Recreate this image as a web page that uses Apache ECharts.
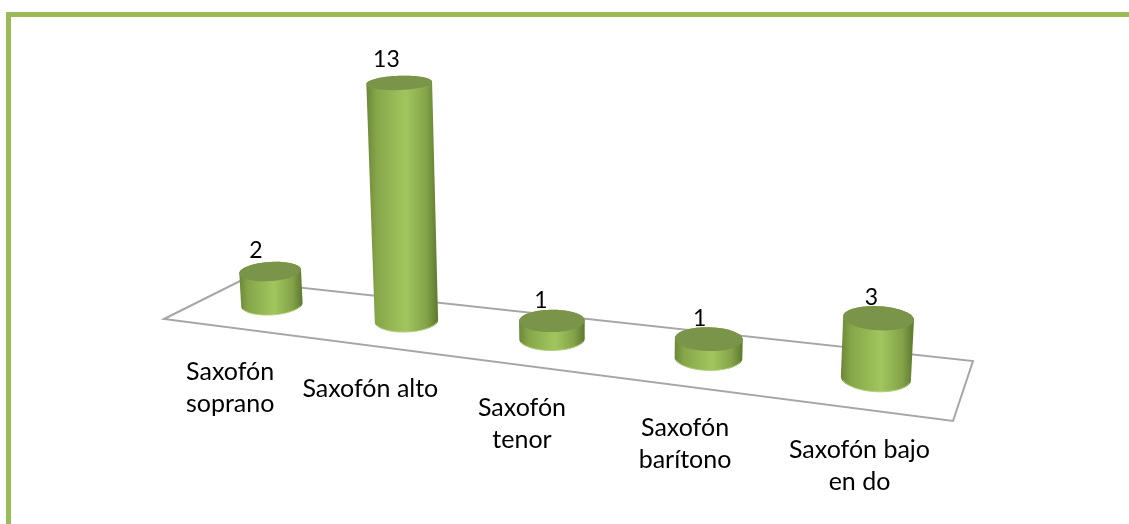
<!DOCTYPE html>
<html>
<head>
<meta charset="utf-8">
<title>Saxofones</title>
<script src="https://cdn.jsdelivr.net/npm/echarts@6/dist/echarts.min.js"></script>
<style>
html, body { margin: 0; padding: 0; background: #fff; }
#chart { width: 1129px; height: 524px; }
</style>
</head>
<body>
<div id="chart"></div>
<script>
// datos
var categories = ['Saxofón\nsoprano', 'Saxofón alto', 'Saxofón\ntenor', 'Saxofón\nbarítono', 'Saxofón bajo\nen do'];
var values = [2, 13, 1, 1, 3];

var myChart = echarts.init(document.getElementById('chart'));
var FONT = 'Lato, "Open Sans", sans-serif';
var GREEN = '#9bbb59';
var MID = (categories.length - 1) / 2;
var VANISH_X = 597;   // punto de fuga de los cilindros
var LEAN = 0.00016;

// las categorias se abren hacia la derecha, como en la perspectiva original
function warpX(x, midX) {
	var d = x - midX;
	return x + 0.00024 * d * d;
}

function ellipsePts(cx, cy, rx, ry, tilt, from, to) {
	var pts = [];
	for (var i = 0; i <= 40; i++) {
		var a = from + (to - from) * i / 40;
		var px = rx * Math.cos(a);
		pts.push([cx + px, cy + ry * Math.sin(a) + tilt * px]);
	}
	return pts;
}

function renderFloor(params, api) {
	var o = api.coord([MID, 0]);
	var pts = [
		[o[0] - 388, o[1] - 20],
		[o[0] - 312, o[1] - 58],
		[o[0] + 421, o[1] + 22],
		[o[0] + 401, o[1] + 82]
	];
	return {
		type: 'polygon',
		shape: { points: pts },
		style: { fill: '#fff', stroke: '#a6a6a6', lineWidth: 2 }
	};
}

function renderCylinder(params, api) {
	var c = api.value(0);
	var v = api.value(1);
	var mid = api.coord([MID, 0]);
	var base = api.coord([c, 0]);
	var top = api.coord([c, v]);

	var fx = warpX(base[0], mid[0]);
	var off = fx - mid[0];
	var fy = base[1] + 0.122 * off;
	var h = (base[1] - top[1]) * (1 + off * 0.0003);
	h = h * (1 + 0.00029 * h);
	var k = 1 + LEAN * h;
	var tx = VANISH_X + (fx - VANISH_X) * k;
	var ty = fy - h;
	var rx = 32.7 * (1 + off * 0.00022);
	var ryB = 11.5 * (1 + off * 0.00045);
	var ryT = ryB * (1 - h * 0.0014);
	var tilt = (fx - VANISH_X) * 0.00018;

	var body = ellipsePts(fx, fy, rx, ryB, tilt, 0, Math.PI)
		.concat(ellipsePts(tx, ty, rx * k, ryT, tilt, Math.PI, Math.PI * 2));

	return {
		type: 'group',
		children: [{
			type: 'polygon',
			shape: { points: body },
			style: {
				fill: new echarts.graphic.LinearGradient(0, 0, 1, 0, [
					{ offset: 0, color: '#6b8738' },
					{ offset: 0.14, color: '#86a649' },
					{ offset: 0.55, color: '#a2c65e' },
					{ offset: 0.84, color: '#84a248' },
					{ offset: 1, color: '#5c7830' }
				])
			}
		}, {
			type: 'polyline',
			shape: { points: ellipsePts(fx, fy, rx - 1, ryB, tilt, 0.25, Math.PI - 0.25) },
			style: { fill: null, stroke: '#b3cf7c', lineWidth: 1 }
		}, {
			type: 'polygon',
			shape: { points: ellipsePts(tx, ty, rx * k, ryT, tilt, 0, Math.PI * 2) },
			style: { fill: '#7a9449' }
		}, {
			type: 'text',
			style: {
				text: String(v),
				x: tx - 11 + off * 0.012,
				y: ty - 20 - h * 0.015,
				align: 'center',
				verticalAlign: 'middle',
				fill: '#000',
				font: '23px ' + FONT
			}
		}, {
			type: 'text',
			style: {
				// las etiquetas cuelgan del borde delantero del suelo
				text: categories[c],
				x: fx - 30 + off * 0.042,
				y: fy + 53 + 0.007 * off,
				align: 'center',
				verticalAlign: 'top',
				lineHeight: 32,
				fill: '#000',
				font: '25px ' + FONT
			}
		}]
	};
}

var seriesData = [];
for (var i = 0; i < values.length; i++) {
	seriesData.push([i, values[i]]);
}

var option = {
	animation: false,
	graphic: [
		{ type: 'rect', silent: true, shape: { x: 6, y: 12, width: 1123, height: 5 }, style: { fill: GREEN } },
		{ type: 'rect', silent: true, shape: { x: 6, y: 12, width: 5, height: 512 }, style: { fill: GREEN } }
	],
	grid: { left: 174.5, width: 755, top: 87, height: 252 },
	xAxis: { type: 'category', data: categories, show: false },
	yAxis: { type: 'value', min: 0, max: 14, interval: 2, show: false },
	series: [{
		type: 'custom',
		data: [[MID, 0]],
		renderItem: renderFloor,
		z: 1,
		silent: true
	}, {
		type: 'custom',
		data: seriesData,
		encode: { x: 0, y: 1 },
		renderItem: renderCylinder,
		z: 2,
		clip: false
	}]
};
myChart.setOption(option);
</script>
</body>
</html>
